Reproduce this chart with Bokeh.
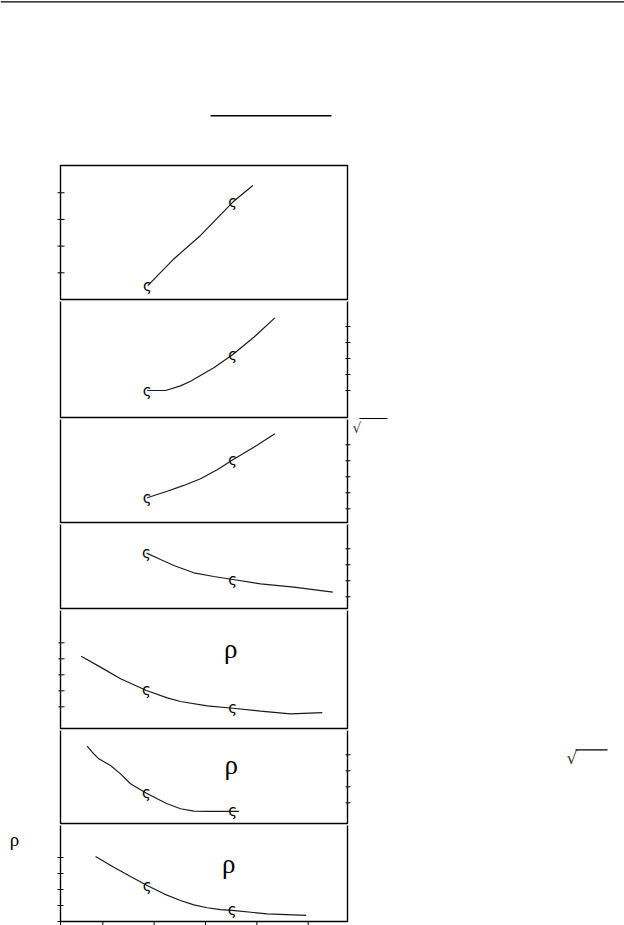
import numpy as np
from bokeh.plotting import figure
from bokeh.layouts import column
from bokeh.models import Range1d
from bokeh.core.properties import value
from bokeh.embed import file_html
from bokeh.resources import INLINE

# ---------------- data ----------------
# shared x axis (panel box spans x_start..x_end)
x_start, x_end = 0.176, 5.765
x_ticks = [0.176, 1, 2, 3, 4, 5]

# panel 1
p1_x = [1.876, 2.383, 2.903, 3.532, 3.921]
p1_y = [0.52, 1.52, 2.40, 3.65, 4.27]
p1_mx = [1.87, 3.53]
p1_my = [0.52, 3.65]
p1_ticks = [1, 2, 3, 4]

# panel 2
p2_x = [1.865, 2.221, 2.513, 2.708, 3.162, 3.532, 3.941, 4.350]
p2_y = [1.00, 1.00, 1.29, 1.58, 2.42, 3.25, 4.33, 5.54]
p2_mx = [1.865, 3.53]
p2_my = [1.00, 3.25]
p2_ticks = [1, 2, 3, 4, 5]

# panel 3
p3_x = [1.865, 2.254, 2.577, 2.903, 3.228, 3.532, 3.941, 4.350]
p3_y = [1.69, 2.10, 2.46, 2.88, 3.44, 4.06, 4.85, 5.69]
p3_mx = [1.865, 3.53]
p3_my = [1.69, 4.06]
p3_ticks = [1, 2, 3, 4, 5]

# panel 4
p4_x = [1.851, 2.124, 2.383, 2.772, 3.162, 3.532, 4.071, 4.720, 5.479]
p4_y = [3.73, 3.33, 2.96, 2.50, 2.27, 2.08, 1.81, 1.60, 1.29]
p4_mx = [1.851, 3.53]
p4_my = [3.73, 2.08]
p4_ticks = [1, 2, 3, 4]

# panel 5
p5_x = [0.579, 0.955, 1.345, 1.851, 2.254, 2.513, 3.033, 3.532, 4.071, 4.655, 5.273]
p5_y = [4.16, 3.48, 2.75, 2.02, 1.56, 1.33, 1.06, 0.91, 0.73, 0.56, 0.63]
p5_mx = [1.851, 3.53]
p5_my = [2.02, 0.91]
p5_ticks = [1, 2, 3, 4, 5]

# panel 6
p6_x = [0.696, 0.794, 0.922, 1.150, 1.345, 1.539, 1.734, 1.851, 2.059, 2.254, 2.513, 2.772, 3.033, 3.649]
p6_y = [4.54, 4.16, 3.75, 3.33, 2.81, 2.19, 1.81, 1.60, 1.25, 0.94, 0.63, 0.48, 0.46, 0.46]
p6_mx = [1.851, 3.53]
p6_my = [1.60, 0.46]
p6_ticks = [1, 2, 3, 4]

# panel 7
p7_x = [0.858, 1.214, 1.539, 1.865, 2.189, 2.513, 2.772, 3.033, 3.292, 3.520, 4.202, 4.961]
p7_y = [4.06, 3.39, 2.81, 2.25, 1.73, 1.31, 1.04, 0.86, 0.74, 0.69, 0.48, 0.38]
p7_mx = [1.865, 3.52]
p7_my = [2.25, 0.69]
p7_ticks = [0, 1, 2, 3, 4]

# rho marks (panels 5, 6, 7)
rho_x = [3.49, 3.50, 3.45]
rho_y = [4.64, 3.39, 3.61]

# ---------------- layout (page pixels) ----------------
W = 624
BOX_L, BOX_R = 60, 347
INK = "#1a1a1a"
sx = (x_end - x_start) / (BOX_R - BOX_L)
xr = Range1d(x_start - BOX_L * sx, x_end + (W - BOX_R) * sx)

# header
header = figure(width=W, height=163, x_range=Range1d(0, W), y_range=Range1d(163, 0),
                x_axis_type=None, y_axis_type=None, toolbar_location=None,
                output_backend="svg", min_border=0, outline_line_color=None)
header.segment(x0=[0, 210], y0=[1.3, 115.3], x1=[W, 331], y1=[1.3, 115.3],
               line_color="black", line_width=[1.2, 1.4])

panels_spec = [
    # canvas top, canvas bottom, box top, box bottom, ylo, yhi, side, ticks, tin, tout, xs, ys, mx, my
    (163, 301, 165, 299, 0.0, 5.02, "left", p1_ticks, 4, 3, p1_x, p1_y, p1_mx, p1_my),
    (301, 419, 299, 417, -0.6875, 6.6875, "right", p2_ticks, 2, 3, p2_x, p2_y, p2_mx, p2_my),
    (419, 524, 417, 522, 0.144, 6.706, "right", p3_ticks, 2, 3, p3_x, p3_y, p3_mx, p3_my),
    (524, 610, 522, 608, 0.269, 5.644, "right", p4_ticks, 2, 3, p4_x, p4_y, p4_mx, p4_my),
    (610, 730, 608, 728, -0.356, 7.144, "left", p5_ticks, 4, 2, p5_x, p5_y, p5_mx, p5_my),
    (730, 825, 728, 823, -0.294, 5.644, "right", p6_ticks, 2, 3, p6_x, p6_y, p6_mx, p6_my),
    (825, 925, 823, 921, 0.0, 6.125, "left", p7_ticks, 3, 3, p7_x, p7_y, p7_mx, p7_my),
]

figs = [header]
for i, (ct, cb, bt, bb, ylo, yhi, side, ticks, tin, tout, xs, ys, mx, my) in enumerate(panels_spec):
    s = (yhi - ylo) / (bb - bt)
    yr = Range1d(ylo - (cb - bb) * s, yhi + (bt - ct) * s)
    p = figure(width=W, height=cb - ct, x_range=xr, y_range=yr,
               x_axis_type=None, y_axis_type=None, toolbar_location=None, output_backend="svg",
               min_border=0, outline_line_color=None,
               background_fill_color="white", border_fill_color="white")
    # panel box
    p.quad(left=[x_start], right=[x_end], bottom=[ylo], top=[yhi],
           fill_color=None, line_color="black", line_width=1.4)
    # ticks crossing the box edge
    edge = x_start if side == "left" else x_end
    out_ang, in_ang = (np.pi, 0.0) if side == "left" else (0.0, np.pi)
    p.ray(x=[edge] * len(ticks), y=ticks, length=tout, length_units="screen",
          angle=out_ang, line_color="black", line_width=1)
    p.ray(x=[edge] * len(ticks), y=ticks, length=tin, length_units="screen",
          angle=in_ang, line_color="black", line_width=1)
    if i == len(panels_spec) - 1:
        p.ray(x=x_ticks, y=[ylo] * len(x_ticks), length=4, length_units="screen",
              angle=-np.pi / 2, line_color="black", line_width=1)
    # curve and marks
    p.line(xs, ys, line_color=INK, line_width=1.2)
    p.text(x=mx, y=my, text=["ς"] * len(mx), text_font=value("DejaVu Sans"),
           text_font_size="15px", text_align="center", text_baseline="middle",
           text_color="black")
    if i >= 4:
        k = i - 4
        p.text(x=[rho_x[k]], y=[rho_y[k]], text=["ρ"], text_font=value("Liberation Serif"),
               text_font_size="27px", text_align="center", text_baseline="middle",
               text_color="black")
    figs.append(p)

# decorations beside the boxes
p2 = figs[2]
p2.ray(x=[5.999], y=[-0.75], length=28, length_units="screen", angle=0.0,
       line_color="black", line_width=1.2)
p3 = figs[3]
p3.text(x=[5.950], y=[6.03], text=["√"], text_font=value("DejaVu Sans"),
        text_font_size="14px", text_align="center", text_baseline="middle", text_color="#333333")
p6 = figs[6]
p6.text(x=[10.137], y=[3.831], text=["√"], text_font=value("DejaVu Sans"),
        text_font_size="17px", text_align="center", text_baseline="middle", text_color="#333333")
p6.ray(x=[10.206], y=[4.3125], length=32, length_units="screen", angle=0.0,
       line_color="black", line_width=1.2)
p7 = figs[7]
p7.text(x=[-0.7196], y=[5.156], text=["ρ"], text_font=value("Liberation Serif"),
        text_font_size="19px", text_align="center", text_baseline="middle", text_color="black")

layout = column(*figs, spacing=0)

open("out.html", "w").write(file_html(layout, INLINE))
